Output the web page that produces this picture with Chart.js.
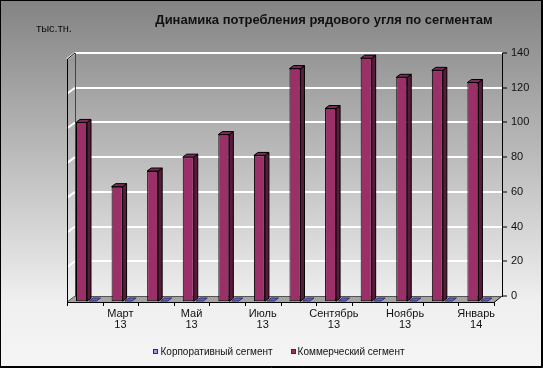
<!DOCTYPE html>
<html>
<head>
<meta charset="utf-8">
<script src="https://cdn.jsdelivr.net/npm/chart.js@4.4.1/dist/chart.umd.min.js"></script>
<style>
  html, body { margin: 0; padding: 0; background: #fff; }
  #wrap { width: 543px; height: 368px; }
</style>
</head>
<body>
<div id="wrap"><canvas id="c" width="543" height="368"></canvas></div>
<script>
const chartTitle = 'Динамика потребления рядового угля по сегментам';
const unitLabel = 'тыс.тн.';
const categories = ['Февраль 13','Март 13','Апрель 13','Май 13','Июнь 13','Июль 13','Август 13','Сентябрь 13','Октябрь 13','Ноябрь 13','Декабрь 13','Январь 14'];
const seriesNames = ['Корпоративный сегмент', 'Коммерческий сегмент'];
const corporate = [0,0,0,0,0,0,0,0,0,0,0,0];
const commercial = [100,63,72,80,93,81,131,108,137,126,130,123];
const yTickMin = 0, yTickMax = 140, yTickStep = 20;

const DX = 8, DY = 6;       // floor depth (3D projection)
const BX = 4, BY = 3;       // bar depth

const deco = {
  id: 'deco',
  beforeDraw(chart) {
    const ctx = chart.ctx, W = chart.width, H = chart.height;
    const {left, right, top, bottom} = chart.chartArea;
    ctx.save();
    const g = ctx.createLinearGradient(0, 0, 0, H);
    g.addColorStop(0, '#838383');
    g.addColorStop(0.815, '#efefef');
    g.addColorStop(1, '#f5f5f5');
    ctx.fillStyle = g;
    ctx.fillRect(0, 0, W, H);
    // floor
    ctx.beginPath();
    ctx.moveTo(left, bottom); ctx.lineTo(right, bottom);
    ctx.lineTo(right - DX, bottom + DY); ctx.lineTo(left - DX, bottom + DY);
    ctx.closePath();
    ctx.fillStyle = '#a4a4a4';
    ctx.fill();
    ctx.restore();
  },
  beforeDatasetsDraw(chart) {
    const ctx = chart.ctx;
    const {left, right, top, bottom} = chart.chartArea;
    const ys = chart.scales.y;
    ctx.save();
    // left wall diagonals
    ys.ticks.forEach(t => {
      const py = ys.getPixelForValue(t.value);
      ctx.beginPath();
      ctx.moveTo(left, py); ctx.lineTo(left - DX, py + DY);
      ctx.strokeStyle = t.value === 0 ? '#555' : '#ffffff';
      ctx.lineWidth = t.value === 0 ? 1 : 2;
      ctx.stroke();
    });
    ctx.lineWidth = 1;
    ctx.strokeStyle = '#444';
    ctx.beginPath();
    ctx.moveTo(left + 0.5, top); ctx.lineTo(left + 0.5, bottom);
    ctx.stroke();
    ctx.strokeStyle = '#000';
    ctx.beginPath();
    ctx.moveTo(left, top); ctx.lineTo(left - DX + 0.5, top + DY);
    ctx.lineTo(left - DX + 0.5, bottom + DY);
    ctx.stroke();
    // floor edges
    ctx.beginPath();
    ctx.moveTo(left - DX, bottom + DY + 0.5); ctx.lineTo(right - DX, bottom + DY + 0.5);
    ctx.lineTo(right, bottom);
    ctx.stroke();
    ctx.strokeStyle = '#555';
    ctx.beginPath();
    ctx.moveTo(left, bottom + 0.5); ctx.lineTo(right, bottom + 0.5);
    ctx.stroke();
    // front category ticks
    const xs = chart.scales.x;
    const cw = xs.getPixelForValue(1) - xs.getPixelForValue(0);
    ctx.strokeStyle = '#000';
    for (let i = 0; i <= categories.length; i++) {
      const px = Math.round(xs.getPixelForValue(0) - cw / 2 + i * cw - DX) + 0.5;
      ctx.beginPath();
      ctx.moveTo(px, bottom + DY); ctx.lineTo(px, bottom + DY + 4);
      ctx.stroke();
    }
    ctx.restore();
  },
  afterDatasetsDraw(chart) {
    const ctx = chart.ctx;
    ctx.save();
    ctx.lineWidth = 1;
    ctx.strokeStyle = '#000';
    // corporate: flat marks
    chart.getDatasetMeta(1).data.forEach(el => {
      const {x, y, width} = el.getProps(['x', 'y', 'width'], true);
      const l = x - width / 2, r = x + width / 2, yf = y + DY - 1;
      ctx.beginPath();
      ctx.moveTo(l, yf); ctx.lineTo(r, yf); ctx.lineTo(r + BX, yf - BY); ctx.lineTo(l + BX, yf - BY);
      ctx.closePath();
      ctx.fillStyle = '#5f5fd0';
      ctx.fill();
      ctx.strokeStyle = '#333366';
      ctx.stroke();
    });
    ctx.strokeStyle = '#000';
    chart.getDatasetMeta(0).data.forEach(el => {
      const {x, y, base, width} = el.getProps(['x', 'y', 'base', 'width'], true);
      const l = x - width / 2, r = x + width / 2;
      ctx.beginPath();
      ctx.moveTo(r, y); ctx.lineTo(r + BX, y - BY); ctx.lineTo(r + BX, base - BY); ctx.lineTo(r, base);
      ctx.closePath();
      ctx.fillStyle = '#5a1a3c';
      ctx.fill(); ctx.stroke();
      ctx.beginPath();
      ctx.moveTo(l, y); ctx.lineTo(l + BX, y - BY); ctx.lineTo(r + BX, y - BY); ctx.lineTo(r, y);
      ctx.closePath();
      ctx.fillStyle = '#7e2a56';
      ctx.fill(); ctx.stroke();
    });
    ctx.restore();
  },
  afterDraw(chart) {
    const ctx = chart.ctx, W = chart.width, H = chart.height;
    ctx.save();
    // title & unit
    ctx.fillStyle = '#111';
    ctx.textAlign = 'center';
    ctx.textBaseline = 'middle';
    ctx.font = 'bold 13px "Liberation Sans", Arial, sans-serif';
    ctx.fillText(chartTitle, 324, 20);
    ctx.font = '11px "Liberation Sans", Arial, sans-serif';
    ctx.fillText(unitLabel, 54, 29);
    // legend
    ctx.font = '10px "Liberation Sans", Arial, sans-serif';
    const items = [
      {text: seriesNames[0], color: chart.data.datasets[1].backgroundColor},
      {text: seriesNames[1], color: chart.data.datasets[0].backgroundColor}
    ];
    const box = 5, gap1 = 2, gap2 = 18;
    const widths = items.map(it => box + gap1 + ctx.measureText(it.text).width);
    const total = widths[0] + gap2 + widths[1];
    let lx = 279 - total / 2;
    const ly = 352;
    ctx.textAlign = 'left';
    items.forEach((it, i) => {
      ctx.fillStyle = it.color;
      ctx.fillRect(Math.round(lx), ly - 3, box, box);
      ctx.strokeStyle = '#333';
      ctx.lineWidth = 1;
      ctx.strokeRect(Math.round(lx) + 0.5, ly - 2.5, box - 1, box - 1);
      ctx.fillStyle = '#111';
      ctx.fillText(it.text, lx + box + gap1, ly);
      lx += widths[i] + gap2;
    });
    // border
    ctx.strokeStyle = '#000';
    ctx.lineWidth = 1;
    ctx.strokeRect(0.5, 0.5, W - 2, H - 2);
    ctx.beginPath();
    ctx.moveTo(W - 0.5, 0); ctx.lineTo(W - 0.5, H - 0.5); ctx.lineTo(0, H - 0.5);
    ctx.stroke();
    ctx.restore();
  }
};

new Chart(document.getElementById('c'), {
  type: 'bar',
  data: {
    labels: categories,
    datasets: [
      {
        label: seriesNames[1],
        data: commercial,
        backgroundColor: '#9b2f68',
        borderColor: '#000',
        borderWidth: 1,
        borderSkipped: false,
        base: -3,
        clip: false,
        categoryPercentage: 1.27,
        barPercentage: 0.487
      },
      {
        label: seriesNames[0],
        data: corporate,
        backgroundColor: '#9999ff',
        borderWidth: 0,
        categoryPercentage: 0.02,
        barPercentage: 20
      }
    ]
  },
  plugins: [deco],
  options: {
    responsive: false,
    animation: false,
    layout: { padding: { top: 53, left: 75, right: 0, bottom: 32 } },
    plugins: { legend: { display: false }, title: { display: false }, tooltip: { enabled: false } },
    scales: {
      x: {
        position: 'bottom',
        grid: { display: false, drawTicks: false },
        border: { display: false },
        ticks: {
          autoSkip: false, maxRotation: 0, minRotation: 0,
          padding: 12, labelOffset: -8,
          color: '#111',
          font: { family: '"Liberation Sans", Arial, sans-serif', size: 11, lineHeight: 1.0 },
          callback: function(v, i) { return i % 2 === 1 ? categories[i].split(' ') : ''; }
        },
        afterFit: s => { s.height = 40; }
      },
      y: {
        position: 'right',
        min: yTickMin, max: yTickMax,
        ticks: {
          stepSize: yTickStep, padding: 4, color: '#111',
          font: { family: '"Liberation Sans", Arial, sans-serif', size: 11 }
        },
        grid: {
          color: c => (c.tick && c.tick.value === 0) ? 'rgba(0,0,0,0)' : '#ffffff',
          lineWidth: 2,
          tickColor: '#000',
          tickLength: 5,
          tickWidth: 1
        },
        border: { display: true, color: '#000', width: 1 },
        afterFit: s => { s.width = 41; }
      }
    }
  }
});
</script>
</body>
</html>
